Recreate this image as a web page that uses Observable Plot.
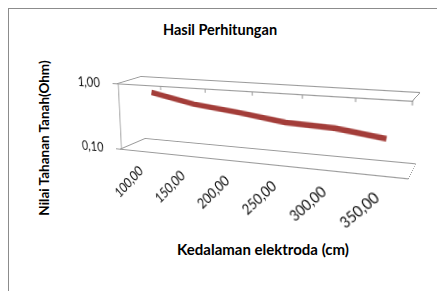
<!DOCTYPE html>
<html><head><meta charset="utf-8">
<script src="https://cdn.jsdelivr.net/npm/d3@7"></script>
<script src="https://cdn.jsdelivr.net/npm/@observablehq/plot@0.6"></script>
<style>
html,body{margin:0;padding:0;background:#fff;}
#chart{position:relative;width:437px;height:291px;overflow:hidden;font-family:Lato,"Open Sans",sans-serif;}
#border{position:absolute;left:8px;top:8px;width:700px;height:700px;border:1px solid #8c8c8c;}
.lbl{position:absolute;white-space:nowrap;font-weight:bold;color:#000;transform:translate(-50%,-50%);line-height:1;}
#scene{position:absolute;left:0;top:0;width:437px;height:291px;}
</style></head><body>
<div id="chart">
  <div id="border"></div>
  <div class="lbl" style="left:220px;top:30px;font-size:14.5px;">Hasil Perhitungan</div>
  <div class="lbl" style="left:45px;top:138px;font-size:13.5px;transform:translate(-50%,-50%) rotate(-90deg);">Nilai Tahanan Tanah(Ohm)</div>
  <div class="lbl" style="left:263px;top:249px;font-size:15px;">Kedalaman elektroda (cm)</div>
  <div id="scene"></div>
</div>
<script>
// ---- data ----
const depths = [100, 150, 200, 250, 300, 350];
const depthLabels = ["100,00", "150,00", "200,00", "250,00", "300,00", "350,00"];
const resistance = [0.68, 0.50, 0.42, 0.34, 0.32, 0.26];
const valueTicks = [0.1, 1];
const valueTickLabels = ["0,10", "1,00"];

// ---- styling / layout ----
const gridColor = "#9a9a9a";
const seriesColor = "#a33d39";
const front = {tl: [116.7, 83.3], tr: [412.3, 100.7], br: [408.3, 178.3], bl: [120, 148.7]};
const back  = {tl: [141, 76],     tr: [420, 92],      br: [415.7, 163.3], bl: [145, 138]};
const lerp = (a, b, t) => [a[0] + (b[0] - a[0]) * t, a[1] + (b[1] - a[1]) * t];
const depthT = 0.5;
const mid = {tl: lerp(front.tl, back.tl, depthT), tr: lerp(front.tr, back.tr, depthT),
             br: lerp(front.br, back.br, depthT), bl: lerp(front.bl, back.bl, depthT)};
const leftSide = {tl: front.tl, tr: back.tl, br: back.bl, bl: front.bl};
const rightSide = {tl: front.tr, tr: back.tr, br: back.br, bl: front.br};

function homography(src, dst) {
  const A = [];
  for (let i = 0; i < 4; i++) {
    const [x, y] = src[i], [X, Y] = dst[i];
    A.push([x, y, 1, 0, 0, 0, -x * X, -y * X, X]);
    A.push([0, 0, 0, x, y, 1, -x * Y, -y * Y, Y]);
  }
  const n = 8;
  for (let c = 0; c < n; c++) {
    let p = c;
    for (let r = c + 1; r < n; r++) if (Math.abs(A[r][c]) > Math.abs(A[p][c])) p = r;
    [A[c], A[p]] = [A[p], A[c]];
    for (let r = 0; r < n; r++) {
      if (r === c) continue;
      const f = A[r][c] / A[c][c];
      for (let k = c; k <= n; k++) A[r][k] -= f * A[c][k];
    }
  }
  return A.map((row, i) => row[n] / row[i]);
}

const scene = document.getElementById("scene");

function plane(quad, {frameW, frameH, mL = 6, mR = 6, mT = 6, mB = 6, marks}) {
  const svg = Plot.plot({
    width: mL + frameW + mR,
    height: mT + frameH + mB,
    marginLeft: mL, marginRight: mR, marginTop: mT, marginBottom: mB,
    x: {type: "point", domain: depths, padding: 0.5, axis: null},
    y: {type: "log", domain: [0.1, 1], axis: null},
    style: {background: "transparent", fontFamily: "Lato, 'Open Sans', sans-serif", overflow: "visible", maxWidth: "none"},
    marks
  });
  const src = [[mL, mT], [mL + frameW, mT], [mL + frameW, mT + frameH], [mL, mT + frameH]];
  const dst = [quad.tl, quad.tr, quad.br, quad.bl];
  const h = homography(src, dst);
  svg.style.position = "absolute";
  svg.style.left = "0px";
  svg.style.top = "0px";
  svg.style.transformOrigin = "0 0";
  svg.style.transform = `matrix3d(${h[0]},${h[3]},0,${h[6]},${h[1]},${h[4]},0,${h[7]},0,0,1,0,${h[2]},${h[5]},0,1)`;
  scene.appendChild(svg);
  return svg;
}

const FW = 296, FH = 66;
const bw = FW / depths.length;

// back wall gridlines
plane(back, {frameW: FW, frameH: FH, marks: [
  Plot.ruleY(valueTicks, {stroke: gridColor, strokeWidth: 1})
]});
// side depth lines
plane(leftSide, {frameW: 40, frameH: FH, marks: [
  Plot.ruleY(valueTicks, {stroke: gridColor, strokeWidth: 1})
]});
plane(rightSide, {frameW: 40, frameH: FH, marks: [
  Plot.ruleY(valueTicks, {stroke: gridColor, strokeWidth: 1})
]});
// series ribbon at mid depth
const series = depths.map((d, i) => ({depth: d, value: resistance[i]}));
plane(mid, {frameW: FW, frameH: FH, marks: [
  Plot.line(series, {x: "depth", y: "value", stroke: seriesColor, strokeWidth: 5.5, strokeLinecap: "butt", strokeLinejoin: "round"})
]});
// front: edges, ticks, labels
plane(front, {frameW: FW, frameH: FH, mL: 60, mR: 10, mT: 10, mB: 80, marks: [
  Plot.ruleY(valueTicks, {stroke: gridColor, strokeWidth: 1, insetLeft: -5}),
  Plot.ruleX([depths[0]], {y1: 1, y2: 0.1, dx: -bw / 2, stroke: gridColor, strokeWidth: 1}),
  Plot.ruleX(depths, {y1: 1, y2: 0.1, insetBottom: FH - 4, dx: bw / 2, stroke: gridColor, strokeWidth: 1}),
  Plot.text(valueTicks, {y: d => d, text: (d, i) => valueTickLabels[i], frameAnchor: "left", textAnchor: "end", dx: -21, fontSize: 14, fill: "#111"}),
  Plot.text(depths, {x: d => d, text: (d, i) => depthLabels[i], frameAnchor: "bottom", rotate: -45, textAnchor: "end", dx: 1, dy: 21, fontSize: 14, fill: "#111"})
]});
</script>
</body></html>
